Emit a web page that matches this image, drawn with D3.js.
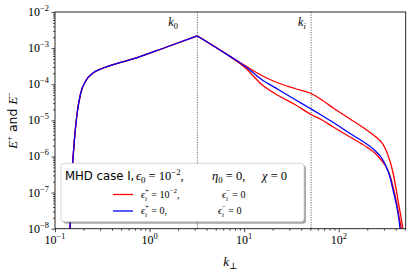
<!DOCTYPE html>
<html>
<head>
<meta charset="utf-8">
<script src="https://cdn.jsdelivr.net/npm/d3@7"></script>
<style>
  body { margin: 0; background: #fff; }
  svg { display: block; }
</style>
</head>
<body>
<div id="chart"></div>
<script>
// spectrum values
// rising part below k0, shared by all three curves
const kRise = [0.1441, 0.1524, 0.1607, 0.1709, 0.1861, 0.2127, 0.2522, 0.314, 0.4307, 0.6675, 1.516, 3.2];
const eRise = [1.0e-8, 4.22e-7, 3.05e-6, 1.50e-5, 5.37e-5, 1.27e-4, 2.05e-4, 2.73e-4, 3.63e-4, 5.0e-4, 1.074e-3, 2.17e-3];

// falling part above k0
const kFall = [7.08, 10.2, 15.3, 22.9, 34.4, 51, 66.4, 87.5, 131.4, 197.2, 247.4, 284.1, 315.5, 347.7, 376.8, 409.3, 433.0];
const eUpperFall = [5.9e-4, 3.30e-4, 1.746e-4, 1.082e-4, 7.62e-5, 5.54e-5, 3.66e-5, 2.20e-5, 1.091e-5, 5.41e-6, 3.46e-6, 2.44e-6, 1.511e-6, 7.49e-7, 3.27e-7, 1.039e-7, 4.26e-8];
const eLowerFall = [5.9e-4, 2.91e-4, 9.83e-5, 4.88e-5, 2.75e-5, 1.453e-5, 1.023e-5, 6.55e-6, 3.46e-6, 1.83e-6, 1.171e-6, 7.74e-7, 5.28e-7, 2.97e-7, 1.384e-7, 5.15e-8, 2.25e-8];
const eBlueFall = [5.9e-4, 3.14e-4, 1.353e-4, 7.15e-5, 3.78e-5, 2.06e-5, 1.363e-5, 8.73e-6, 4.33e-6, 2.215e-6, 1.373e-6, 9.07e-7, 5.45e-7, 2.70e-7, 1.107e-7, 4.26e-8, 1.743e-8];

// last points where each curve drops out of the frame
const kUpperTail = [460.0, 477.2];
const eUpperTail = [1.74e-8, 9.5e-9];
const kLowerTail = [460.0];
const eLowerTail = [9.5e-9];
const kBlueTail = [445.7];
const eBlueTail = [9.5e-9];

const k0 = 3.2;
const ki = 51;

const xMajor = [0.1, 1, 10, 100];
const yMajor = [1e-8, 1e-7, 1e-6, 1e-5, 1e-4, 1e-3, 1e-2];

const W = 416, H = 271;
const margin = {top: 12, right: 10.3, bottom: 42.3, left: 55};

const serif = '"Liberation Serif", "DejaVu Serif", serif';
const sans = '"DejaVu Sans", sans-serif';

const svg = d3.select("#chart").append("svg")
    .attr("width", W)
    .attr("height", H);

const x = d3.scaleLog().domain([0.1, 510]).range([margin.left, W - margin.right]);
const y = d3.scaleLog().domain([1e-8, 1e-2]).range([H - margin.bottom, margin.top]);

const x0 = x.range()[0], x1 = x.range()[1], yb = y.range()[0], yt = y.range()[1];

svg.append("clipPath").attr("id", "plotclip")
    .append("rect")
    .attr("x", x0).attr("y", yt)
    .attr("width", x1 - x0).attr("height", yb - yt);

// text with sub/superscripts, parts = [text, opts]
function rich(g, px, py, size, parts, family) {
    const t = g.append("text")
        .attr("x", px).attr("y", py)
        .attr("font-size", size)
        .attr("font-family", family || serif)
        .attr("fill", "#000");
    let shift = 0;
    parts.forEach(([s, o]) => {
        o = o || {};
        const sp = t.append("tspan").text(s);
        let target = o.sup ? -size * (o.hi || 0.42) : (o.sub ? size * (o.lo || 0.22) : 0);
        sp.attr("dy", target - shift);
        shift = target;
        if (o.dx) sp.attr("dx", o.dx);
        if (o.sup || o.sub) sp.attr("font-size", size * 0.7);
        if (o.i) sp.attr("font-style", "italic");
        if (o.sans) sp.attr("font-family", sans);
    });
    return t;
}

// vertical markers
[k0, ki].forEach(k => {
    svg.append("line")
        .attr("x1", x(k)).attr("x2", x(k))
        .attr("y1", yt).attr("y2", yb)
        .attr("stroke", "#444")
        .attr("stroke-width", 0.8)
        .attr("stroke-dasharray", "1.2,1.3");
});

// curves
const series = [
    {k: kRise.concat(kFall, kUpperTail), e: eRise.concat(eUpperFall, eUpperTail), color: "#ff0000"},
    {k: kRise.concat(kFall, kLowerTail), e: eRise.concat(eLowerFall, eLowerTail), color: "#ff0000"},
    {k: kRise.concat(kFall, kBlueTail), e: eRise.concat(eBlueFall, eBlueTail), color: "#0000ff"}
];

const line = d3.line()
    .x(d => x(d[0]))
    .y(d => y(d[1]))
    .curve(d3.curveMonotoneX);

const curveGroup = svg.append("g").attr("clip-path", "url(#plotclip)");
series.forEach(s => {
    // split at k0 so the peak stays sharp
    const pts = s.k.map((k, i) => [k, s.e[i]]);
    const iPeak = s.k.indexOf(k0);
    [pts.slice(0, iPeak + 1), pts.slice(iPeak)].forEach(part => {
        curveGroup.append("path")
            .datum(part)
            .attr("d", line)
            .attr("fill", "none")
            .attr("stroke", s.color)
            .attr("stroke-width", 1.3);
    });
});

// axes
function minorsOf(majors, maxV) {
    let out = [];
    majors.forEach(m => { for (let j = 2; j <= 9; j++) if (m * j <= maxV) out.push(m * j); });
    return out;
}

const xAxisG = svg.append("g").attr("transform", `translate(0,${yb})`);
xAxisG.append("g").call(d3.axisBottom(x).tickValues(minorsOf(xMajor, 510)).tickSize(2).tickFormat(""));
xAxisG.append("g").call(d3.axisBottom(x).tickValues(xMajor).tickSize(3.5).tickFormat(""));

const yAxisG = svg.append("g").attr("transform", `translate(${x0},0)`);
yAxisG.append("g").call(d3.axisLeft(y).tickValues(minorsOf(yMajor.slice(0, -1), 1e-2)).tickSize(2).tickFormat(""));
yAxisG.append("g").call(d3.axisLeft(y).tickValues(yMajor).tickSize(3.5).tickFormat(""));

svg.selectAll(".domain").remove();
svg.selectAll(".tick line").attr("stroke", "#000").attr("stroke-width", 0.7);

// frame
svg.append("rect")
    .attr("x", x0).attr("y", yt)
    .attr("width", x1 - x0).attr("height", yb - yt)
    .attr("fill", "none")
    .attr("stroke", "#111")
    .attr("stroke-width", 0.9);

// tick labels
const labG = svg.append("g");
xMajor.forEach(v => {
    rich(labG, x(v), yb + 15, 12, [["10"], [String(Math.round(Math.log10(v))).replace("-", "\u2212"), {sup: true}]])
        .attr("text-anchor", "middle");
});
yMajor.forEach(v => {
    rich(labG, x0 - 6, y(v) + 4, 12, [["10"], [String(Math.round(Math.log10(v))).replace("-", "\u2212"), {sup: true}]])
        .attr("text-anchor", "end");
});

// axis titles
rich(svg, (x0 + x1) / 2, 266, 13, [["k", {i: true}], ["\u22A5", {sub: true}]])
    .attr("text-anchor", "middle");

rich(svg, 0, 0, 12.5, [["E", {i: true}], ["+", {sup: true}], [" and ", {sans: true}], ["E", {i: true}], ["\u2212", {sup: true}]])
    .attr("text-anchor", "middle")
    .attr("transform", `translate(17,${(yt + yb) / 2}) rotate(-90)`);

// marker labels
rich(svg, x(k0) - 29, 26, 12, [["k", {i: true}], ["0", {sub: true}]]);
rich(svg, x(ki) - 13, 26, 12, [["k", {i: true}], ["i", {sub: true, i: true}]]);

// legend
const leg = svg.append("g");
const lx = 61, ly = 163.3, lw = 243, lh = 58.4;
leg.append("rect")
    .attr("x", lx + 2).attr("y", ly + 2).attr("width", lw).attr("height", lh)
    .attr("rx", 3).attr("fill", "#4d4d4d").attr("opacity", 0.5);
leg.append("rect")
    .attr("x", lx).attr("y", ly).attr("width", lw).attr("height", lh)
    .attr("rx", 3).attr("fill", "#fff").attr("stroke", "#ccc").attr("stroke-width", 0.8);

leg.append("text").attr("x", 65).attr("y", 180).attr("font-family", sans).attr("font-size", 11.7).text("MHD case I,");
rich(leg, 136, 180, 12.5, [["\u03F5", {i: true}], ["0", {sub: true}], [" = 10"], ["\u22122", {sup: true}], [","]]);
rich(leg, 212, 180, 12.5, [["\u03B7", {i: true}], ["0", {sub: true}], [" = 0,"]]);
rich(leg, 262, 180, 12.5, [["\u03C7", {i: true}], [" = 0"]]);

const entries = [
    {color: "#ff0000", yy: 194.5, a: "10", aExp: "\u22122", aTail: ","},
    {color: "#0000ff", yy: 211, a: "0,", aExp: null, aTail: ""}
];
const sub = 10 * 0.7 * 0.3;
entries.forEach((en, idx) => {
    leg.append("line")
        .attr("x1", 113).attr("x2", 133)
        .attr("y1", en.yy).attr("y2", en.yy)
        .attr("stroke", en.color).attr("stroke-width", 1.3);
    const p = [["\u03F5", {i: true}], ["i", {sub: true, i: true, lo: 0.3}], ["+", {sup: true, hi: 0.5, dx: -sub}], [" = " + en.a]];
    if (en.aExp) p.push([en.aExp, {sup: true}], [en.aTail]);
    rich(leg, 141, en.yy + 3, 10, p);
    rich(leg, idx === 0 ? 222 : 218, en.yy + 3, 10,
        [["\u03F5", {i: true}], ["i", {sub: true, i: true, lo: 0.3}], ["\u2212", {sup: true, hi: 0.5, dx: -sub}], [" = 0"]]);
});
</script>
</body>
</html>
